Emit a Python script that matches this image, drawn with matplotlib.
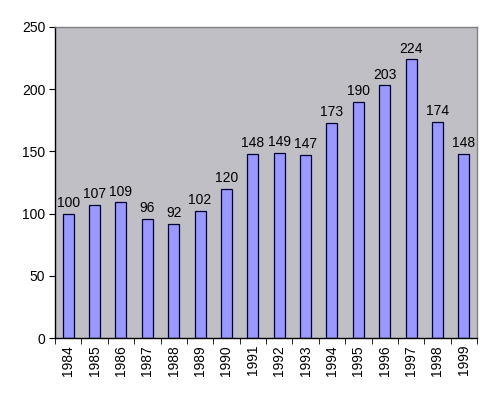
import matplotlib
matplotlib.use("Agg")
import matplotlib.pyplot as plt
import numpy as np

years = ["1984", "1985", "1986", "1987", "1988", "1989", "1990", "1991",
         "1992", "1993", "1994", "1995", "1996", "1997", "1998", "1999"]
values = [100, 107, 109, 96, 92, 102, 120, 148, 149, 147, 173, 190, 203, 224, 174, 148]

plt.rcParams['font.family'] = ['Liberation Sans', 'DejaVu Sans']

fig = plt.figure(figsize=(4.92, 3.95), dpi=100)
ax = fig.add_axes([55/492, 1-338/395, (477-55)/492, (338-27)/395])
ax.set_facecolor('#C0BFC5')

x = np.arange(len(years))
bars = ax.bar(x, values, width=0.42, color='#9999FF', edgecolor='#000033', linewidth=0.9, zorder=2)
for xi, v in zip(x, values):
    ax.text(xi, v + 3, str(v), ha='center', va='bottom', fontsize=10, color='black')

ax.set_xlim(-0.5, len(years) - 0.5)
ax.set_ylim(0, 250)
ax.set_yticks(np.arange(0, 251, 50))
ax.tick_params(axis='y', labelsize=10, length=4, direction='out', pad=3)
ax.set_xticks(x)
ax.set_xticklabels(years, rotation=90, fontsize=10)
ax.tick_params(axis='x', length=0, pad=5)
ax.set_xticks(np.arange(-0.5, len(years)), minor=True)
ax.tick_params(axis='x', which='minor', length=4, direction='out')

for s in ['top', 'right']:
    ax.spines[s].set_color('#808080')
    ax.spines[s].set_linewidth(1.0)
for s in ['left', 'bottom']:
    ax.spines[s].set_color('black')
    ax.spines[s].set_linewidth(1.0)

fig.savefig('out.png', dpi=100)
